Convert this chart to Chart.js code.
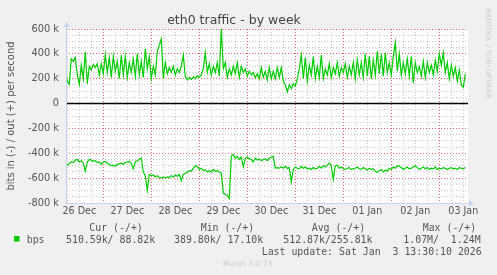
<!DOCTYPE html>
<html>
<head>
<meta charset="utf-8">
<script src="https://cdn.jsdelivr.net/npm/chart.js@4.4.1/dist/chart.umd.min.js"></script>
<style>
  html, body { margin: 0; padding: 0; background: #F0F0F0; }
  canvas { display: block; }
</style>
</head>
<body>
<canvas id="c" width="497" height="275"></canvas>
<script>
// ---- data (values in k bits/s, one sample per hour, hour 0 = 26 Dec 00:00) ----
const startHour = 5;
const dayLabels = ['26 Dec', '27 Dec', '28 Dec', '29 Dec', '30 Dec', '31 Dec', '01 Jan', '02 Jan', '03 Jan'];
const yTickLabels = { '600000': '600 k', '400000': '400 k', '200000': '200 k', '0': '0', '-200000': '-200 k', '-400000': '-400 k', '-600000': '-600 k', '-800000': '-800 k' };

const outValues = [
  285, 180, 155, 360, 340, 370, 230, 155, 310, 200, 415, 160, 300, 270, 315, 290, 320, 230, 320, 240,
  395, 250, 370, 210, 380, 260, 340, 200, 390, 230, 380, 210, 330, 250, 360, 220, 400, 230, 340, 210,
  440, 280, 380, 200, 300, 230, 420, 470, 520, 200, 330, 240, 290, 250, 300, 230, 280, 250, 300, 390,
  220, 190, 210, 195, 215, 200, 225, 210, 230, 280, 410, 250, 320, 230, 300, 250, 330, 220, 600, 280,
  330, 210, 280, 230, 300, 240, 330, 210, 300, 250, 280, 220, 260, 230, 250, 210, 240, 200, 290, 210,
  260, 190, 290, 200, 260, 200, 290, 210, 290, 180, 150, 95, 150, 120, 160, 140, 200, 280, 390, 200,
  370, 180, 310, 230, 380, 200, 300, 210, 390, 200, 280, 230, 320, 210, 290, 240, 330, 220, 290, 250,
  320, 210, 300, 230, 330, 200, 350, 230, 330, 210, 400, 220, 380, 200, 350, 230, 420, 240, 400, 220,
  410, 250, 330, 230, 380, 490, 260, 400, 230, 330, 240, 360, 220, 380, 165, 330, 250, 300, 220, 340,
  210, 330, 250, 310, 230, 350, 260, 400, 310, 410, 250, 330, 200, 310, 220, 290, 180, 270, 150, 130,
  240
];

const inValues = [
  -510, -495, -480, -470, -475, -455, -450, -470, -460, -480, -545, -470, -450, -455, -465, -460, -475, -470, -490, -470,
  -465, -480, -490, -500, -495, -505, -490, -485, -480, -490, -475, -470, -465, -480, -525, -470, -460, -450, -440, -550,
  -580, -700, -570, -580, -575, -590, -580, -595, -600, -590, -600, -590, -595, -580, -590, -575, -585, -570, -620, -570,
  -560, -550, -540, -545, -520, -500, -505, -530, -520, -540, -530, -550, -540, -550, -530, -545, -540, -550, -560, -720,
  -730, -740, -765, -420, -410, -440, -425, -450, -430, -510, -440, -430, -445, -450, -470, -440, -455, -445, -460, -450,
  -445, -460, -440, -430, -425, -520, -515, -520, -510, -520, -505, -520, -515, -630, -530, -510, -520, -525, -505, -520,
  -510, -525, -520, -530, -515, -525, -520, -505, -520, -500, -510, -495, -480, -500, -610, -500, -495, -520, -510, -525,
  -530, -520, -515, -530, -525, -520, -510, -525, -530, -515, -525, -535, -520, -530, -525, -545, -555, -540, -530, -550,
  -535, -545, -520, -530, -510, -520, -500, -505, -515, -530, -520, -510, -525, -520, -510, -500, -515, -530, -520, -510,
  -525, -515, -530, -520, -525, -510, -530, -520, -525, -515, -520, -530, -520, -515, -525, -520, -530, -515, -520, -525,
  -515
];

const legendHeaders = ['Cur (-/+)', 'Min (-/+)', 'Avg (-/+)', 'Max (-/+)'];
const legendValues = ['510.59k/ 88.82k', '389.80k/ 17.10k', '512.87k/255.81k', '1.07M/  1.24M'];
const seriesName = 'bps';
const lastUpdate = 'Last update: Sat Jan  3 13:30:10 2026';
const titleText = 'eth0 traffic - by week';
const yTitle = 'bits in (-) / out (+) per second';
const sideText = 'RRDTOOL / TOBI OETIKER';
const footerText = 'Munin 2.0.73';

// ---- chart ----
const X_MIN = 5.35, X_MAX = 206.35;
const Y_MIN = -800000, Y_MAX = 600000;
const GREEN = '#00CC00';
const TEXT = '#555555';
const MINOR = 'rgba(170,170,170,0.6)';
const MAJOR = 'rgba(225,70,70,0.8)';
const AXIS = '#C8CFF2';

const toPoints = (vals) => vals.map((v, i) => ({ x: startHour + i, y: v * 1000 }));

const decorPlugin = {
  id: 'decor',
  beforeDraw(chart) {
    const { ctx, chartArea: a } = chart;
    ctx.save();
    ctx.fillStyle = '#F0F0F0';
    ctx.fillRect(0, 0, chart.width, chart.height);
    ctx.fillStyle = '#FFFFFF';
    ctx.fillRect(a.left, a.top, a.right - a.left, a.bottom - a.top);
    ctx.restore();
  },
  afterDraw(chart) {
    const { ctx, chartArea: a } = chart;
    ctx.save();
    // axes with arrows
    ctx.strokeStyle = AXIS;
    ctx.fillStyle = AXIS;
    ctx.lineWidth = 1;
    ctx.beginPath();
    ctx.moveTo(a.left + 0.5, a.top - 3);
    ctx.lineTo(a.left + 0.5, a.bottom + 0.5);
    ctx.lineTo(a.right + 2, a.bottom + 0.5);
    ctx.stroke();
    ctx.beginPath();
    ctx.moveTo(a.left + 0.5, a.top - 7);
    ctx.lineTo(a.left - 2.5, a.top - 2);
    ctx.lineTo(a.left + 3.5, a.top - 2);
    ctx.closePath();
    ctx.fill();
    ctx.beginPath();
    ctx.moveTo(a.right + 6, a.bottom + 0.5);
    ctx.lineTo(a.right + 1, a.bottom - 2.5);
    ctx.lineTo(a.right + 1, a.bottom + 3.5);
    ctx.closePath();
    ctx.fill();

    // legend
    ctx.fillStyle = TEXT;
    ctx.textBaseline = 'middle';
    ctx.textAlign = 'left';
    ctx.font = '9.9px "DejaVu Sans Mono"';
    const headerX = [89.3, 200.7, 311.7, 422.7];
    const valueX = [66, 174, 283.3, 403.3];
    legendHeaders.forEach((t, i) => ctx.fillText(t, headerX[i], 228.5));
    ctx.fillText(seriesName, 26.7, 240);
    legendValues.forEach((t, i) => ctx.fillText(t, valueX[i], 240));
    ctx.fillText(lastUpdate, 261.7, 252);
    ctx.fillStyle = GREEN;
    ctx.fillRect(14, 236, 5.5, 5.5);

    // footer and side text
    ctx.fillStyle = '#CCCCCC';
    ctx.font = '7.5px "DejaVu Sans"';
    ctx.fillText(footerText, 223, 264.5);
    ctx.translate(488, 53.5);
    ctx.rotate(Math.PI / 2);
    ctx.textAlign = 'center';
    ctx.font = '7px "DejaVu Sans"';
    ctx.fillText(sideText, 0, 0);
    ctx.restore();
  }
};

new Chart(document.getElementById('c'), {
  type: 'line',
  data: {
    datasets: [
      { label: 'zero', data: [{ x: X_MIN, y: 0 }, { x: X_MAX, y: 0 }], borderColor: '#000000', borderWidth: 1.6, pointRadius: 0 },
      { label: 'out', data: toPoints(outValues), borderColor: GREEN, borderWidth: 1.2, pointRadius: 0, tension: 0 },
      { label: 'in', data: toPoints(inValues), borderColor: GREEN, borderWidth: 1.2, pointRadius: 0, tension: 0 }
    ]
  },
  options: {
    responsive: false,
    devicePixelRatio: 1,
    animation: false,
    events: [],
    layout: { padding: { left: 0, right: 29, top: 0, bottom: 52 } },
    plugins: {
      legend: { display: false },
      tooltip: { enabled: false },
      title: {
        display: true,
        text: titleText,
        color: '#444444',
        font: { family: 'DejaVu Sans', size: 12.5, weight: 'normal', lineHeight: 1.2 },
        padding: { top: 13, bottom: 1 }
      }
    },
    scales: {
      x: {
        type: 'linear',
        min: X_MIN,
        max: X_MAX,
        afterBuildTicks: (scale) => {
          const t = [];
          for (let h = 6; h <= X_MAX; h += 6) t.push({ value: h });
          scale.ticks = t;
        },
        afterFit: (scale) => { scale.height = 20; },
        ticks: {
          autoSkip: false,
          maxRotation: 0,
          minRotation: 0,
          padding: 3,
          color: TEXT,
          font: { family: 'DejaVu Sans', size: 9.6 },
          callback: (v) => (v % 24 === 12 ? dayLabels[(v - 12) / 24] : '')
        },
        grid: {
          drawTicks: false,
          lineWidth: 1,
          color: (c) => (c.tick && c.tick.value % 24 === 0 ? MAJOR : MINOR)
        },
        border: { display: false, dash: [1, 2] }
      },
      y: {
        type: 'linear',
        min: Y_MIN,
        max: Y_MAX,
        afterBuildTicks: (scale) => {
          const t = [];
          for (let v = Y_MIN; v <= Y_MAX; v += 50000) t.push({ value: v });
          scale.ticks = t;
        },
        afterFit: (scale) => { scale.width = 66; },
        ticks: {
          autoSkip: false,
          padding: 7,
          color: TEXT,
          font: { family: 'DejaVu Sans', size: 9.8 },
          callback: (v) => (yTickLabels[String(v)] !== undefined ? yTickLabels[String(v)] : '')
        },
        grid: {
          drawTicks: false,
          lineWidth: 1,
          color: (c) => (c.tick && c.tick.value % 200000 === 0 ? MAJOR : MINOR)
        },
        border: { display: false, dash: [1, 2] },
        title: {
          display: true,
          text: yTitle,
          color: TEXT,
          font: { family: 'DejaVu Sans', size: 10, lineHeight: 1.2 },
          padding: { top: 5, bottom: 0 }
        }
      }
    }
  },
  plugins: [decorPlugin]
});
</script>
</body>
</html>
